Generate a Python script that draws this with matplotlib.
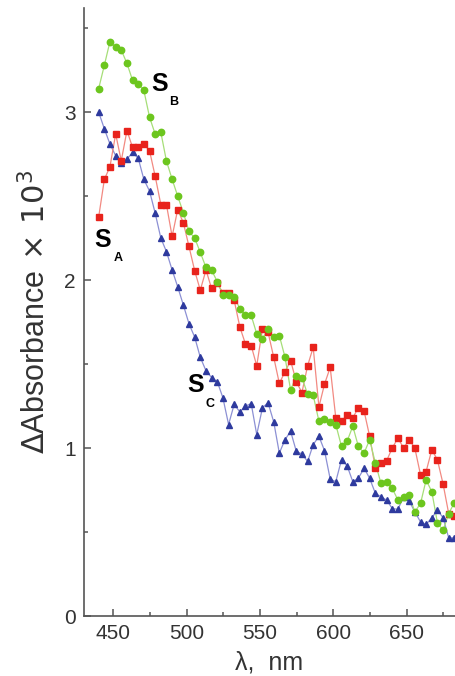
import matplotlib
matplotlib.use('Agg')
import matplotlib.pyplot as plt
from matplotlib.ticker import MultipleLocator

# wavelength grid (nm)
wavelength = [440.0, 443.9, 447.7, 451.6, 455.4, 459.3, 463.1, 467.0, 470.8, 474.7,
              478.5, 482.4, 486.2, 490.1, 493.9, 497.8, 501.6, 505.5, 509.3, 513.2,
              517.0, 520.9, 524.7, 528.6, 532.4, 536.3, 540.1, 544.0, 547.8, 551.7,
              555.5, 559.4, 563.2, 567.1, 570.9, 574.8, 578.6, 582.5, 586.3, 590.2,
              594.0, 597.9, 601.7, 605.6, 609.4, 613.3, 617.1, 621.0, 624.8, 628.7,
              632.5, 636.4, 640.2, 644.1, 647.9, 651.8, 655.6, 659.5, 663.3, 667.2,
              671.0, 674.9, 678.7, 682.6]

s_a = [2.375, 2.60, 2.675, 2.87, 2.71, 2.89, 2.79, 2.79, 2.81, 2.77,
       2.62, 2.45, 2.45, 2.26, 2.42, 2.34, 2.20, 2.055, 1.94, 2.06,
       1.95, 1.98, 1.925, 1.925, 1.88, 1.72, 1.62, 1.61, 1.49, 1.71,
       1.69, 1.54, 1.385, 1.455, 1.52, 1.395, 1.33, 1.49, 1.60, 1.245,
       1.38, 1.48, 1.18, 1.16, 1.195, 1.18, 1.24, 1.22, 1.07, 0.88,
       0.91, 0.925, 1.00, 1.06, 1.00, 1.05, 1.00, 0.84, 0.86, 0.99,
       0.93, 0.785, 0.61, 0.595]

s_b = [3.14, 3.28, 3.42, 3.385, 3.37, 3.29, 3.19, 3.17, 3.13, 2.97,
       2.87, 2.88, 2.71, 2.60, 2.50, 2.40, 2.29, 2.25, 2.165, 2.075,
       2.06, 1.99, 1.91, 1.91, 1.90, 1.83, 1.79, 1.79, 1.68, 1.65,
       1.71, 1.66, 1.67, 1.54, 1.345, 1.43, 1.42, 1.32, 1.315, 1.16,
       1.17, 1.157, 1.14, 1.01, 1.04, 1.13, 1.01, 0.97, 1.05, 0.91,
       0.79, 0.80, 0.76, 0.69, 0.71, 0.72, 0.62, 0.67, 0.81, 0.74,
       0.555, 0.51, 0.61, 0.675]

s_c = [3.00, 2.90, 2.81, 2.74, 2.70, 2.72, 2.76, 2.725, 2.60, 2.53,
       2.40, 2.25, 2.17, 2.06, 1.96, 1.85, 1.74, 1.66, 1.54, 1.46,
       1.42, 1.395, 1.30, 1.14, 1.26, 1.215, 1.25, 1.265, 1.08, 1.24,
       1.27, 1.155, 0.97, 1.05, 1.10, 0.98, 0.965, 0.92, 1.02, 1.07,
       0.985, 0.815, 0.80, 0.93, 0.895, 0.80, 0.82, 0.88, 0.82, 0.73,
       0.71, 0.69, 0.64, 0.635, 0.71, 0.685, 0.62, 0.56, 0.545, 0.585,
       0.63, 0.585, 0.465, 0.465]

plt.rcParams['font.family'] = ['Liberation Sans', 'DejaVu Sans']

fig = plt.figure(figsize=(4.55, 6.76), dpi=100)
ax = fig.add_axes([84 / 455, 60 / 676, 1 - 84 / 455, 608 / 676])

# blue first, green on top
ax.plot(wavelength, s_c, '-', color='#8c90d4', lw=0.9, zorder=2)
ax.plot(wavelength, s_c, '^', color='#2e3a9e', ms=5, mec='#2e3a9e', lw=0, zorder=3)
ax.plot(wavelength, s_a, '-', color='#f28a82', lw=0.9, zorder=2)
ax.plot(wavelength, s_a, 's', color='#e8231c', ms=4.3, mec='#e8231c', lw=0, zorder=3)
ax.plot(wavelength, s_b, '-', color='#a6de78', lw=0.9, zorder=2)
ax.plot(wavelength, s_b, 'o', color='#6cc61e', ms=4.6, mec='#6cc61e', lw=0, zorder=4)

# curve labels
for x, y, sub in [(481.5, 3.17, 'B'), (443.0, 2.24, 'A'), (506.0, 1.375, 'C')]:
    ax.text(x, y, 'S', fontsize=18, fontweight='bold', ha='center', va='center')
    ax.text(x + 10, y - 0.11, sub, fontsize=9, fontweight='bold', ha='center', va='center')

ax.set_xlim(430, 683)
ax.set_ylim(0, 3.62)
ax.xaxis.set_major_locator(MultipleLocator(50))
ax.xaxis.set_minor_locator(MultipleLocator(25))
ax.yaxis.set_major_locator(MultipleLocator(1))
ax.yaxis.set_minor_locator(MultipleLocator(0.5))

for side in ['top', 'right']:
    ax.spines[side].set_visible(False)
for side in ['left', 'bottom']:
    ax.spines[side].set_color('#555555')
    ax.spines[side].set_linewidth(1.2)

ax.tick_params(which='major', direction='in', length=5, width=1.1, color='#555555',
               labelsize=15, labelcolor='#333333', pad=6)
ax.tick_params(which='minor', direction='in', length=3, width=1.1, color='#555555')

ax.set_xlabel('λ,  nm', fontsize=18, color='#333333', labelpad=5)
ax.set_ylabel(r'$\Delta$Absorbance$\,\times\,10^3$', fontsize=22, color='#333333', labelpad=8)

fig.savefig('out.png', dpi=100)
